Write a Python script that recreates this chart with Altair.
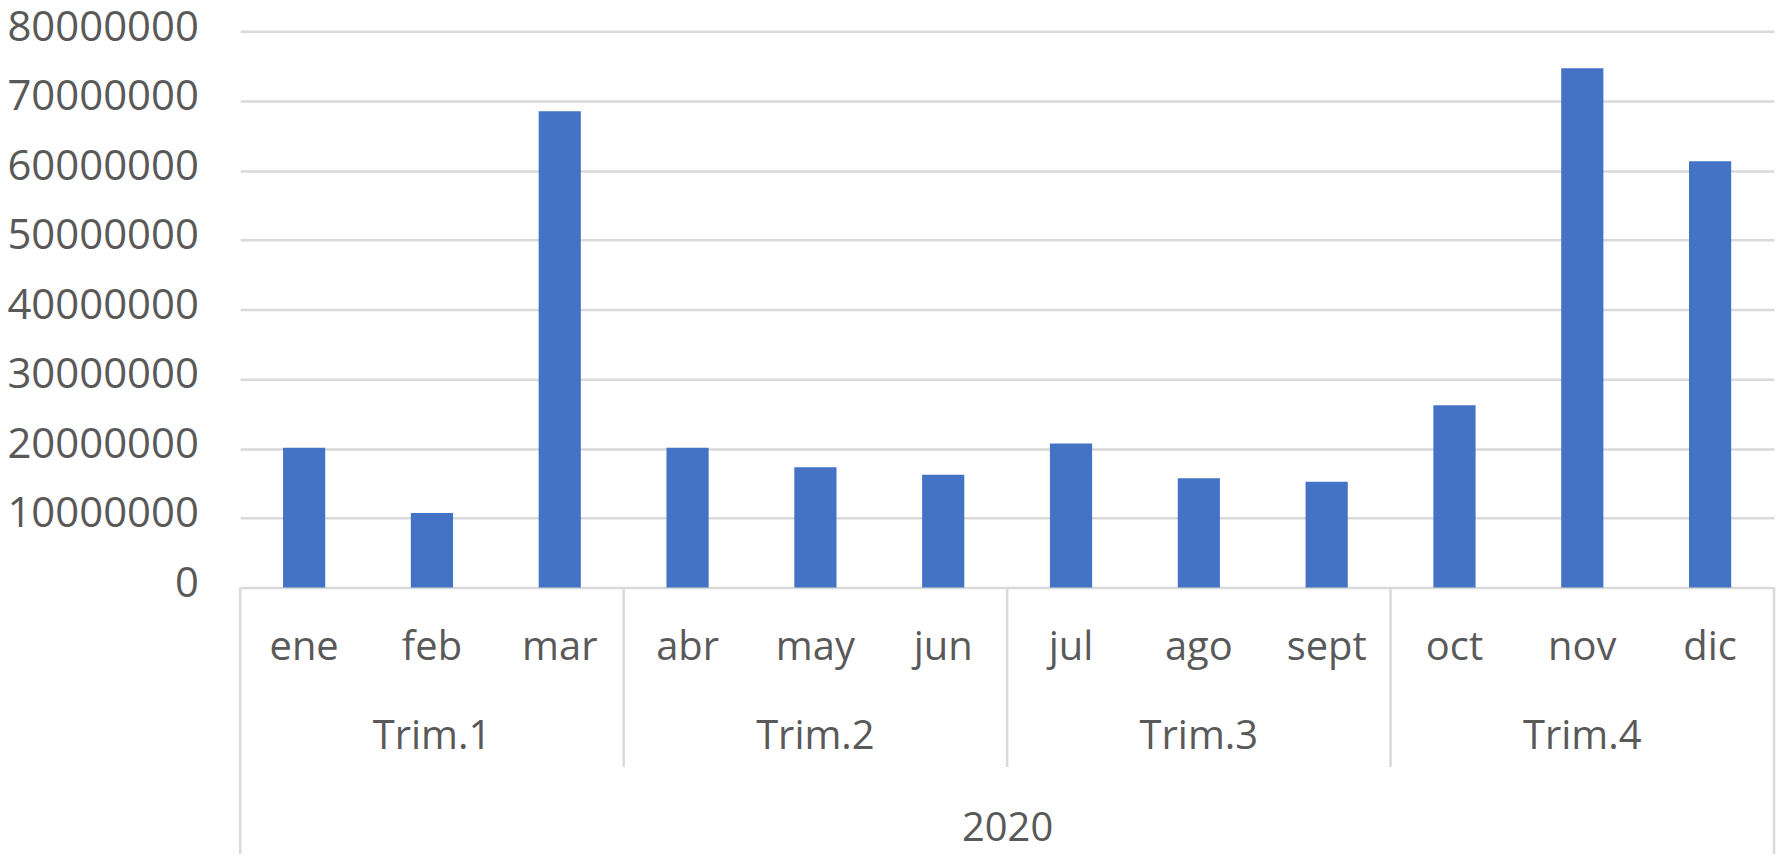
import altair as alt
import pandas as pd

months = ["ene", "feb", "mar", "abr", "may", "jun", "jul", "ago", "sept", "oct", "nov", "dic"]
values = [20100000, 10700000, 68500000, 20100000, 17300000, 16200000,
          20700000, 15700000, 15200000, 26200000, 74700000, 61300000]
quarters = ["Trim.1", "Trim.2", "Trim.3", "Trim.4"]
quarter_mid = ["feb", "may", "ago", "nov"]
quarter_start = ["abr", "jul", "oct"]
year_label = "2020"
y_ticks = [0, 10000000, 20000000, 30000000, 40000000, 50000000, 60000000, 70000000, 80000000]

FONT = "Open Sans"
GRAY = "#595959"
GRID = "#d9d9d9"
W, H = 1539, 558

bars_df = pd.DataFrame({"month": months, "value": values})
q_df = pd.DataFrame({"month": quarter_mid, "label": quarters})
sep_df = pd.DataFrame({"month": quarter_start})
left_df = pd.DataFrame({"month": [months[0]]})
right_df = pd.DataFrame({"month": [months[-1]]})

xscale = alt.Scale(domain=months, paddingInner=0, paddingOuter=0)
xaxis = alt.Axis(
    title=year_label, labelFont=FONT, labelFontSize=40, labelColor=GRAY,
    labelAngle=0, labelBaseline="alphabetic", labelPadding=72, labelLimit=0,
    ticks=False, tickSize=0, domain=False, grid=False,
    titleFont=FONT, titleFontSize=40, titleColor=GRAY, titleFontWeight="normal",
    titleBaseline="alphabetic", titleY=254, titleAnchor="middle",
)


def xenc(**kw):
    return alt.X("month:N", sort=months, scale=xscale, axis=xaxis, **kw)


bars = alt.Chart(bars_df).mark_bar(color="#4472C4", width=alt.RelativeBandSize(0.33)).encode(
    x=xenc(),
    y=alt.Y("value:Q", scale=alt.Scale(domain=[0, 80000000], nice=False),
            axis=alt.Axis(title=None, values=y_ticks, format="d", labelFont=FONT,
                          labelFontSize=42, labelColor=GRAY, labelPadding=42,
                          labelOffset=-4, labelLimit=0, ticks=False, domain=False,
                          grid=True, gridColor=GRID, gridWidth=2.5)),
)

qlabels = alt.Chart(q_df).mark_text(font=FONT, fontSize=40, color=GRAY, baseline="alphabetic").encode(
    x=xenc(),
    y=alt.value(720),
    text="label:N",
)

seps = alt.Chart(sep_df).mark_rule(color=GRID, strokeWidth=2.5).encode(
    x=xenc(bandPosition=0),
    y=alt.value(H),
    y2=alt.value(738),
)

left_edge = alt.Chart(left_df).mark_rule(color=GRID, strokeWidth=2.5).encode(
    x=xenc(bandPosition=0),
    y=alt.value(H),
    y2=alt.value(840),
)

right_edge = alt.Chart(right_df).mark_rule(color=GRID, strokeWidth=2.5).encode(
    x=xenc(bandPosition=1),
    y=alt.value(H),
    y2=alt.value(840),
)

chart = alt.layer(bars, seps, left_edge, right_edge, qlabels).properties(
    width=W, height=H,
    autosize=alt.AutoSizeParams(type="none"),
    padding={"left": 233, "top": 22, "right": 5, "bottom": 266},
    background="white",
).configure_view(stroke=None)

chart.save("out.html", embed_options={"renderer": "svg", "actions": False})
